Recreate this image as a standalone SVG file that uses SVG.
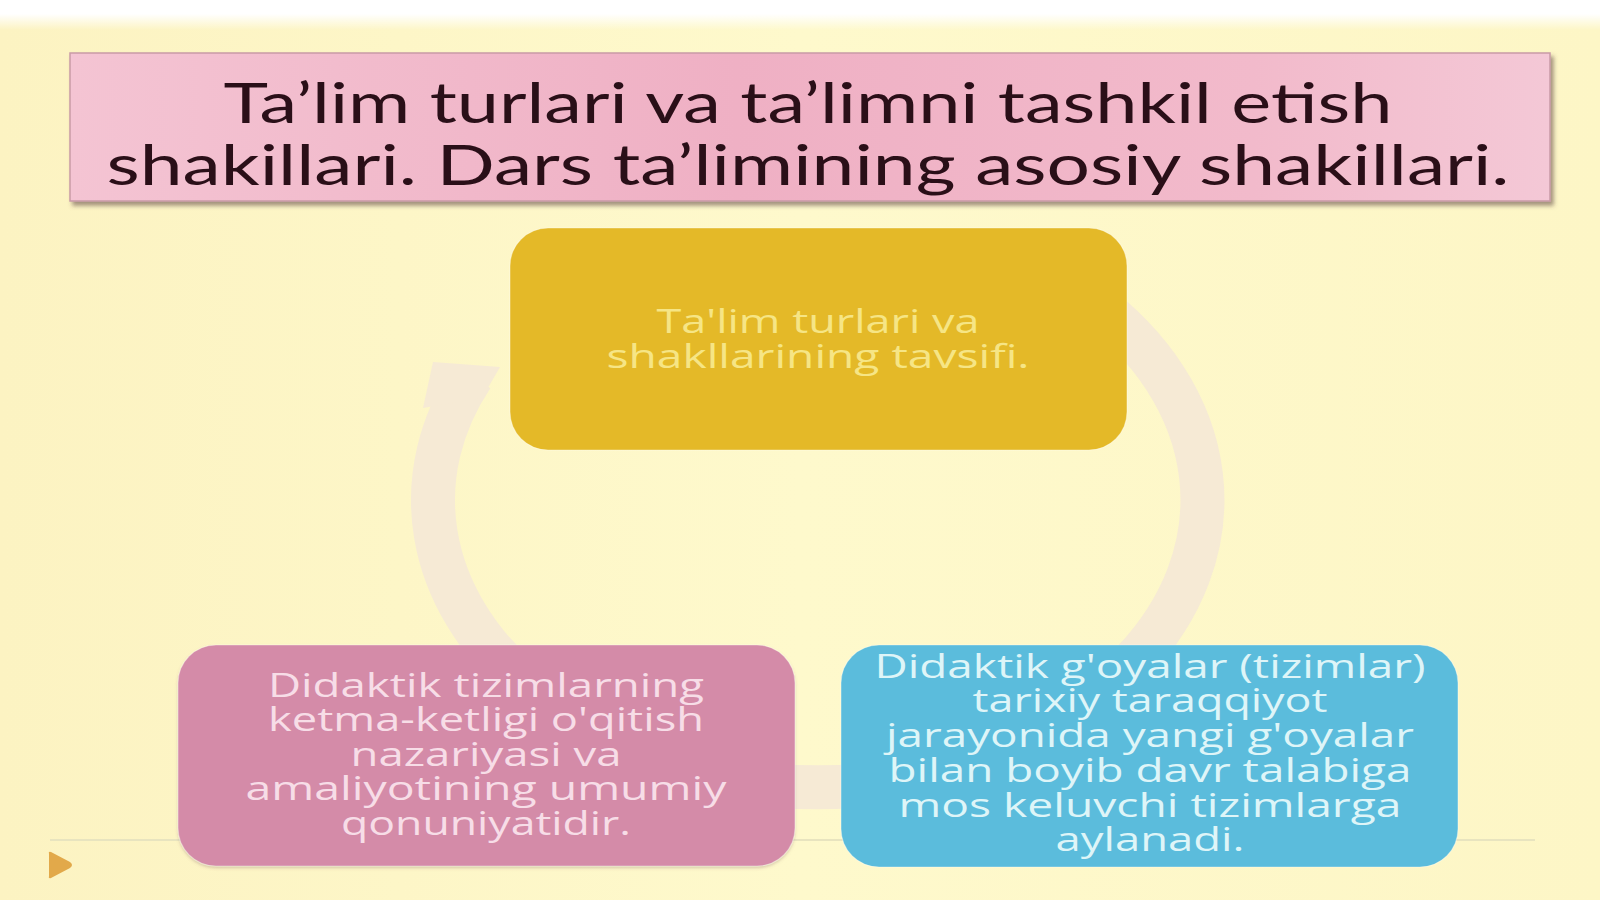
<svg xmlns="http://www.w3.org/2000/svg" width="1600" height="900" viewBox="0 0 1600 900">
  <defs>
    <linearGradient id="bg" x1="0" y1="0" x2="1" y2="0">
      <stop offset="0" stop-color="#fcf3c2"/>
      <stop offset="0.5" stop-color="#fef9cc"/>
      <stop offset="1" stop-color="#fdf6c6"/>
    </linearGradient>
    <linearGradient id="topfade" x1="0" y1="0" x2="0" y2="1">
      <stop offset="0" stop-color="#ffffff"/>
      <stop offset="1" stop-color="#ffffff" stop-opacity="0"/>
    </linearGradient>
    <linearGradient id="titleFill" x1="0" y1="0" x2="1" y2="0">
      <stop offset="0" stop-color="#f4c4d3"/>
      <stop offset="0.45" stop-color="#efb0c4"/>
      <stop offset="0.8" stop-color="#f2bacb"/>
      <stop offset="1" stop-color="#f4c8d6"/>
    </linearGradient>
    <filter id="shadow" x="-5%" y="-10%" width="110%" height="125%">
      <feDropShadow dx="3" dy="4" stdDeviation="2" flood-color="#5a4040" flood-opacity="0.55"/>
    </filter>
    <filter id="soft" x="-5%" y="-5%" width="110%" height="115%">
      <feDropShadow dx="0" dy="2" stdDeviation="1.5" flood-color="#806060" flood-opacity="0.3"/>
    </filter>
  </defs>
  <style>
    .title { font-family: Lato, "Liberation Sans", sans-serif; font-size: 56px; fill: #2a0f18; text-anchor: middle; }
    .nt { font-family: "Open Sans", "Noto Sans", "DejaVu Sans", sans-serif; font-size: 33px; text-anchor: middle; }
    .arc { fill: none; stroke: #f6ead5; stroke-width: 44; stroke-linecap: butt; }
    .node { stroke: #ffffff; stroke-opacity: 0.35; stroke-width: 1.2; }
  </style>

  <!-- background -->
  <rect x="0" y="0" width="1600" height="900" fill="url(#bg)"/>
  <rect x="0" y="0" width="1600" height="14" fill="#ffffff"/>
  <rect x="0" y="14" width="1600" height="16" fill="url(#topfade)"/>
  <line x1="50" y1="840" x2="1535" y2="840" stroke="#e8e4bf" stroke-width="2"/>
  <path d="M49,854 Q48,851 51,852 L70,862 Q74,865 70,868 L51,878 Q48,879 49,876 Z" fill="#e2a94a"/>

  <!-- connectors -->
  <g id="connectors">
    <path class="arc" d="M523,682 A385,283 0 0 1 472,376"/>
    <polygon points="423,408 433,362 500,367 482,398" fill="#f6ead5"/>
    <path class="arc" d="M1090,300 A385,283 0 0 1 1133,662"/>
    <path class="arc" d="M885,783 A385,283 0 0 1 751,783" stroke-width="34"/>
  </g>

  <!-- title -->
  <g id="title">
    <rect x="70" y="53" width="1480" height="148" fill="url(#titleFill)" stroke="#c99aa6" stroke-width="1.5" filter="url(#shadow)"/>
    <text class="title" x="808" y="123" textLength="1169" lengthAdjust="spacingAndGlyphs">Ta’lim turlari va ta’limni tashkil etish</text>
    <text class="title" x="808" y="185" textLength="1403" lengthAdjust="spacingAndGlyphs">shakillari. Dars ta’limining asosiy shakillari.</text>
  </g>

  <!-- top node -->
  <g id="node-top">
    <rect class="node" x="510" y="228" width="617" height="222" rx="38" fill="#e4b928"/>
    <text class="nt" fill="#f6e585" x="818" y="333" textLength="323" lengthAdjust="spacingAndGlyphs">Ta'lim turlari va</text>
    <text class="nt" fill="#f6e585" x="818" y="368" textLength="423" lengthAdjust="spacingAndGlyphs">shakllarining tavsifi.</text>
  </g>

  <!-- bottom-left node -->
  <g id="node-left">
    <rect class="node" x="178" y="645" width="617" height="221" rx="38" fill="#d48ba8" filter="url(#soft)"/>
    <text class="nt" fill="#f7dde7" x="486" y="697" textLength="436" lengthAdjust="spacingAndGlyphs">Didaktik tizimlarning</text>
    <text class="nt" fill="#f7dde7" x="486" y="731" textLength="436" lengthAdjust="spacingAndGlyphs">ketma-ketligi o'qitish</text>
    <text class="nt" fill="#f7dde7" x="486" y="766" textLength="271" lengthAdjust="spacingAndGlyphs">nazariyasi va</text>
    <text class="nt" fill="#f7dde7" x="486" y="800" textLength="481" lengthAdjust="spacingAndGlyphs">amaliyotining umumiy</text>
    <text class="nt" fill="#f7dde7" x="486" y="835" textLength="290" lengthAdjust="spacingAndGlyphs">qonuniyatidir.</text>
  </g>

  <!-- bottom-right node -->
  <g id="node-right">
    <rect class="node" x="841" y="645" width="617" height="222" rx="38" fill="#5bbcdc"/>
    <text class="nt" fill="#def5f8" x="1150" y="678" textLength="551" lengthAdjust="spacingAndGlyphs">Didaktik g'oyalar (tizimlar)</text>
    <text class="nt" fill="#def5f8" x="1150" y="712" textLength="355" lengthAdjust="spacingAndGlyphs">tarixiy taraqqiyot</text>
    <text class="nt" fill="#def5f8" x="1150" y="747" textLength="528" lengthAdjust="spacingAndGlyphs">jarayonida yangi g'oyalar</text>
    <text class="nt" fill="#def5f8" x="1150" y="782" textLength="523" lengthAdjust="spacingAndGlyphs">bilan boyib davr talabiga</text>
    <text class="nt" fill="#def5f8" x="1150" y="817" textLength="503" lengthAdjust="spacingAndGlyphs">mos keluvchi tizimlarga</text>
    <text class="nt" fill="#def5f8" x="1150" y="851" textLength="189" lengthAdjust="spacingAndGlyphs">aylanadi.</text>
  </g>
</svg>
